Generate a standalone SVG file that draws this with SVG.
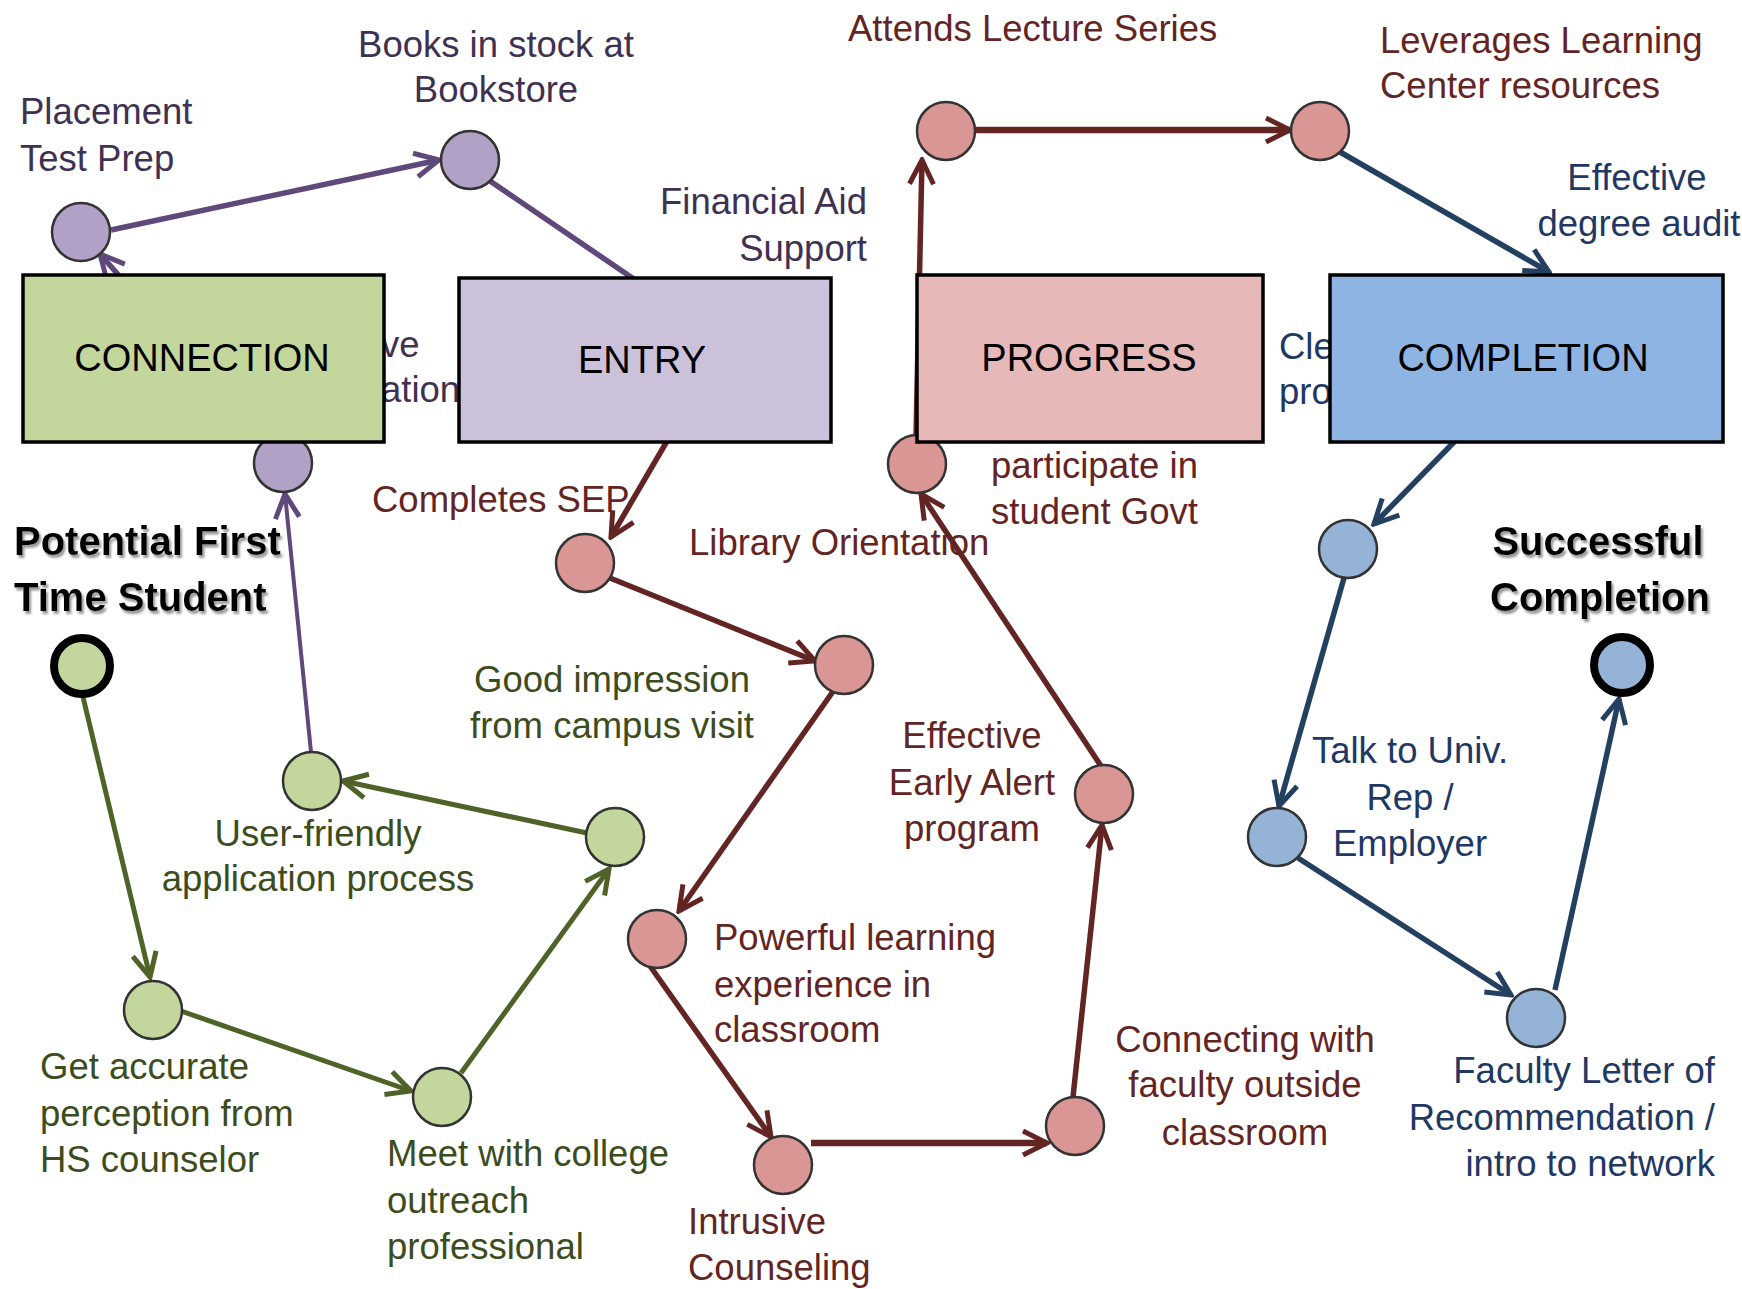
<svg xmlns="http://www.w3.org/2000/svg" width="1742" height="1289" viewBox="0 0 1742 1289">
<style>
text{font-family:"Liberation Sans",Arial,sans-serif;font-size:36.5px}
.lp{fill:#3f3151}.lr{fill:#632523}.lg{fill:#3d4c1c}.lb{fill:#1f3864}
.box{stroke:#000;stroke-width:3.5}
.bt{font-size:38px;fill:#000;text-anchor:middle}
.title{font-size:40px;font-weight:bold;fill:#000;filter:url(#sh)}
.n{stroke:#333;stroke-width:2.5}
.np{fill:#b2a1c7}.ng{fill:#c3d69b}.nr{fill:#d99694}.nb{fill:#95b3d7}
.cp{stroke:#5f497a;fill:none;stroke-width:5.5;marker-end:url(#ap)}
.cr{stroke:#632523;fill:none;stroke-width:5.5;marker-end:url(#ar)}
.cg{stroke:#4f6228;fill:none;stroke-width:5;marker-end:url(#ag)}
.cb{stroke:#244061;fill:none;stroke-width:5.5;marker-end:url(#ab)}
.m{text-anchor:middle}.e{text-anchor:end}
</style>
<defs>
<filter id="sh" x="-10%" y="-30%" width="130%" height="160%"><feDropShadow dx="2" dy="3" stdDeviation="1" flood-color="#9a9a9a"/></filter>
<marker id="ap" viewBox="0 0 30 30" refX="27" refY="15" markerWidth="30" markerHeight="30" markerUnits="userSpaceOnUse" orient="auto"><path d="M3,3 L27,15 L3,27" fill="none" stroke="#5f497a" stroke-width="5"/></marker>
<marker id="ar" viewBox="0 0 30 30" refX="27" refY="15" markerWidth="30" markerHeight="30" markerUnits="userSpaceOnUse" orient="auto"><path d="M3,3 L27,15 L3,27" fill="none" stroke="#632523" stroke-width="5"/></marker>
<marker id="ag" viewBox="0 0 30 30" refX="27" refY="15" markerWidth="30" markerHeight="30" markerUnits="userSpaceOnUse" orient="auto"><path d="M3,3 L27,15 L3,27" fill="none" stroke="#4f6228" stroke-width="5"/></marker>
<marker id="ab" viewBox="0 0 30 30" refX="27" refY="15" markerWidth="30" markerHeight="30" markerUnits="userSpaceOnUse" orient="auto"><path d="M3,3 L27,15 L3,27" fill="none" stroke="#244061" stroke-width="5"/></marker>
</defs>
<rect width="1742" height="1289" fill="#fff"/>

<g id="connectors">
<path class="cp" d="M283,463 L100,254"/>
<path class="cp" d="M111,230 L439,160"/>
<path class="cp" d="M490,181 L650,290" style="marker-end:none"/>
<path class="cp" d="M311,752 L285,494" style="stroke-width:4"/>
<path class="cr" d="M670,436 L611,537"/>
<path class="cr" d="M610,578 L815,661"/>
<path class="cr" d="M834,690 L679,911"/>
<path class="cr" d="M650,966 L771,1137"/>
<path class="cr" d="M811,1143 L1047,1143" style="stroke-width:6.5"/>
<path class="cr" d="M1073,1097 L1102,825"/>
<path class="cr" d="M1101,766 L921,494"/>
<path class="cr" d="M916,436 L922,160"/>
<path class="cr" d="M976,130 L1290,130" style="stroke-width:6.5"/>
<path class="cb" d="M1340,152 L1549,272"/>
<path class="cb" d="M1458,438 L1374,524"/>
<path class="cb" d="M1344,578 L1279,806"/>
<path class="cb" d="M1298,858 L1511,995"/>
<path class="cb" d="M1555,990 L1619,699"/>
<path class="cg" d="M83,697 L150,977"/>
<path class="cg" d="M181,1011 L411,1091"/>
<path class="cg" d="M461,1073 L609,869"/>
<path class="cg" d="M587,833 L343,781"/>
</g>

<g id="hidden-labels">
<text class="lp" x="381" y="357">ve</text>
<text class="lp" x="381" y="402">ation</text>
<text class="lb" x="1279" y="359">Cle</text>
<text class="lb" x="1279" y="404">pro</text>
</g>

<g id="node-placement"><circle class="n np" cx="81" cy="232" r="29"/><text class="lp" x="20" y="124">Placement</text><text class="lp" x="20" y="171">Test Prep</text></g>
<g id="node-bookstore"><circle class="n np" cx="470" cy="160" r="29"/><text class="lp m" x="496" y="57">Books in stock at</text><text class="lp m" x="496" y="102">Bookstore</text></g>
<g id="label-financial-aid"><text class="lp e" x="867" y="214">Financial Aid</text><text class="lp e" x="867" y="261">Support</text></g>
<g id="node-purple-low"><circle class="n np" cx="283" cy="463" r="29"/></g>

<g id="node-start"><circle cx="82" cy="666" r="28" fill="#c3d69b" stroke="#000" stroke-width="8"/><text class="title" x="14" y="555">Potential First</text><text class="title" x="14" y="611">Time Student</text></g>
<g id="node-accurate"><circle class="n ng" cx="153" cy="1010" r="29"/><text class="lg" x="40" y="1079">Get accurate</text><text class="lg" x="40" y="1126">perception from</text><text class="lg" x="40" y="1172">HS counselor</text></g>
<g id="node-meet"><circle class="n ng" cx="442" cy="1097" r="29"/><text class="lg" x="387" y="1166">Meet with college</text><text class="lg" x="387" y="1213">outreach</text><text class="lg" x="387" y="1259">professional</text></g>
<g id="node-campus"><circle class="n ng" cx="615" cy="837" r="29"/><text class="lg m" x="612" y="692">Good impression</text><text class="lg m" x="612" y="738">from campus visit</text></g>
<g id="node-application"><circle class="n ng" cx="312" cy="781" r="29"/><text class="lg m" x="318" y="846">User-friendly</text><text class="lg m" x="318" y="891">application process</text></g>

<g id="node-sep"><circle class="n nr" cx="585" cy="563" r="29"/><text class="lr" x="372" y="512">Completes SEP</text></g>
<g id="node-library"><circle class="n nr" cx="844" cy="665" r="29"/><text class="lr" x="689" y="555">Library Orientation</text></g>
<g id="node-powerful"><circle class="n nr" cx="657" cy="939" r="29"/><text class="lr" x="714" y="950">Powerful learning</text><text class="lr" x="714" y="997">experience in</text><text class="lr" x="714" y="1042">classroom</text></g>
<g id="node-intrusive"><circle class="n nr" cx="783" cy="1165" r="29"/><text class="lr" x="688" y="1234">Intrusive</text><text class="lr" x="688" y="1280">Counseling</text></g>
<g id="node-connecting"><circle class="n nr" cx="1075" cy="1126" r="29"/><text class="lr m" x="1245" y="1052">Connecting with</text><text class="lr m" x="1245" y="1097">faculty outside</text><text class="lr m" x="1245" y="1145">classroom</text></g>
<g id="node-early-alert"><circle class="n nr" cx="1104" cy="794" r="29"/><text class="lr m" x="972" y="748">Effective</text><text class="lr m" x="972" y="795">Early Alert</text><text class="lr m" x="972" y="841">program</text></g>
<g id="node-govt"><circle class="n nr" cx="917" cy="464" r="29"/><text class="lr" x="991" y="478">participate in</text><text class="lr" x="991" y="524">student Govt</text></g>
<g id="node-lecture"><circle class="n nr" cx="946" cy="131" r="29"/><text class="lr" x="848" y="41">Attends Lecture Series</text></g>
<g id="node-learning-center"><circle class="n nr" cx="1320" cy="131" r="29"/><text class="lr" x="1380" y="53">Leverages Learning</text><text class="lr" x="1380" y="98">Center resources</text></g>

<g id="label-degree-audit"><text class="lb m" x="1637" y="190">Effective</text><text class="lb m" x="1639" y="236">degree audit</text></g>
<g id="node-blue-1"><circle class="n nb" cx="1348" cy="549" r="29"/></g>
<g id="node-talk"><circle class="n nb" cx="1277" cy="837" r="29"/><text class="lb m" x="1410" y="763">Talk to Univ.</text><text class="lb m" x="1410" y="810">Rep /</text><text class="lb m" x="1410" y="856">Employer</text></g>
<g id="node-faculty-letter"><circle class="n nb" cx="1536" cy="1018" r="29"/><text class="lb e" x="1715" y="1083">Faculty Letter of</text><text class="lb e" x="1715" y="1130">Recommendation /</text><text class="lb e" x="1715" y="1176">intro to network</text></g>
<g id="node-end"><circle cx="1622" cy="665" r="28" fill="#95b3d7" stroke="#000" stroke-width="8"/><text class="title m" x="1598" y="555">Successful</text><text class="title m" x="1600" y="611">Completion</text></g>

<g id="box-connection"><rect class="box" x="23" y="275" width="361" height="167" fill="#c3d69b"/><text class="bt" x="202" y="371">CONNECTION</text></g>
<g id="box-entry"><rect class="box" x="459" y="278" width="372" height="164" fill="#ccc1da"/><text class="bt" x="642" y="373">ENTRY</text></g>
<g id="box-progress"><rect class="box" x="917" y="275" width="346" height="167" fill="#e6b9b8"/><text class="bt" x="1089" y="371">PROGRESS</text></g>
<g id="box-completion"><rect class="box" x="1330" y="275" width="393" height="167" fill="#8eb4e3"/><text class="bt" x="1523" y="371">COMPLETION</text></g>
</svg>
